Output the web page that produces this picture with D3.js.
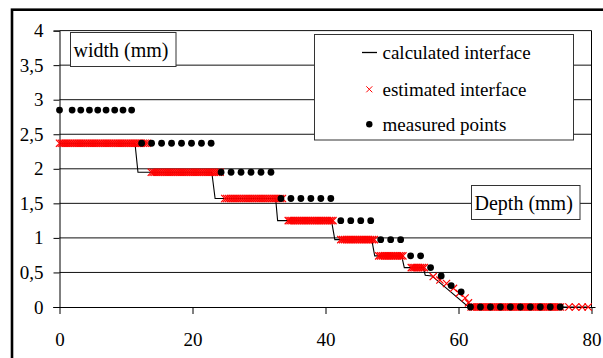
<!DOCTYPE html>
<html>
<head>
<meta charset="utf-8">
<script src="https://cdn.jsdelivr.net/npm/d3@7"></script>
<style>
  html, body { margin: 0; padding: 0; background: #fff; }
  svg { display: block; }
  svg text { font-family: "Liberation Serif", "DejaVu Serif", serif; fill: #000; }
</style>
</head>
<body>
<svg id="chart" width="603" height="358"></svg>
<script>
// Axis ticks and their labels (comma decimal separator)
const xTicks = [0, 20, 40, 60, 80];
const xTickLabels = ["0", "20", "40", "60", "80"];
const yTicks = [0, 0.5, 1, 1.5, 2, 2.5, 3, 3.5, 4];
const yTickLabels = ["0", "0,5", "1", "1,5", "2", "2,5", "3", "3,5", "4"];

// Measured points: depth (mm) and width (mm)
const measuredDepth = [
  0, 1.9, 3.2, 4.5, 5.75, 7.0, 8.3, 9.55, 10.85,
  12.35, 13.85, 15.35, 16.85, 18.35, 19.85, 21.35, 22.8,
  24.3, 25.8, 27.3, 28.8, 30.3, 31.8,
  33.3, 34.8, 36.3, 37.8, 39.3, 40.8,
  42.3, 43.8, 45.3, 46.8,
  48.3, 49.8, 51.3,
  52.8, 54.3,
  55.8, 57.4, 58.9, 60.4,
  61.8, 63.3, 64.8, 66.3, 67.8, 69.3, 70.8, 72.3, 73.8, 75.3
];
const measuredWidth = [
  2.85, 2.85, 2.85, 2.85, 2.85, 2.85, 2.85, 2.85, 2.85,
  2.37, 2.37, 2.37, 2.37, 2.37, 2.37, 2.37, 2.37,
  1.95, 1.95, 1.95, 1.95, 1.95, 1.95,
  1.57, 1.57, 1.57, 1.57, 1.57, 1.57,
  1.25, 1.25, 1.25, 1.25,
  0.975, 0.975, 0.975,
  0.74, 0.74,
  0.57, 0.45, 0.31, 0.22,
  0, 0, 0, 0, 0, 0, 0, 0, 0, 0
];

// Calculated interface: step profile with short slanted drops
const calcDepth = [0, 11.35, 11.8, 22.9, 23.4, 32.5, 32.8, 40.9, 41.4, 46.95, 47.4, 51.45, 51.85, 54.7, 55.0, 56.0, 61.5, 79.5];
const calcWidth = [2.37, 2.37, 1.95, 1.95, 1.57, 1.57, 1.25, 1.25, 0.975, 0.975, 0.74, 0.74, 0.57, 0.57, 0.46, 0.45, 0, 0];

// Estimated interface: flat plateaus [from depth, to depth, width] sampled every estStep mm,
// plus the individually placed points of the final slope and the tail
const estStep = 0.28;
const estPlateauFrom = [0, 13.8, 24.85, 34.4, 42.3, 48.0, 52.9, 61.9];
const estPlateauTo = [13.4, 24.3, 33.8, 41.2, 47.5, 51.85, 55.0, 75.6];
const estPlateauWidth = [2.37, 1.95, 1.57, 1.25, 0.975, 0.74, 0.57, 0];
const estSlopeDepth = [56.2, 57.2, 58.2, 59.25, 60.1, 61.0, 61.5, 76.6, 77.6, 78.6, 79.5];
const estSlopeWidth = [0.44, 0.39, 0.34, 0.27, 0.2, 0.13, 0.06, 0, 0, 0, 0];

const legendLabels = ["calculated interface", "estimated interface", "measured points"];

const svg = d3.select("#chart");
const FONT = '"Liberation Serif", "DejaVu Serif", serif';

const x = d3.scaleLinear().domain([0, 80]).range([59.5, 591.5]);
const y = d3.scaleLinear().domain([0, 4]).range([307, 30.6]);

// Outer frame of the chart
svg.append("rect")
  .attr("x", 12).attr("y", 9.7)
  .attr("width", 700).attr("height", 500)
  .attr("fill", "none").attr("stroke", "#000").attr("stroke-width", 2.6);

// Horizontal gridlines
svg.append("g").selectAll("line")
  .data(yTicks.filter(d => d > 0))
  .join("line")
  .attr("x1", x(0)).attr("x2", x(80))
  .attr("y1", d => y(d)).attr("y2", d => y(d))
  .attr("stroke", "#111").attr("stroke-width", 1);

// Right edge of the plot area
svg.append("line")
  .attr("x1", x(80)).attr("x2", x(80))
  .attr("y1", y(4)).attr("y2", y(0))
  .attr("stroke", "#000").attr("stroke-width", 1);

// Y axis
const yAxis = d3.axisLeft(y)
  .tickValues(yTicks)
  .tickFormat((d, i) => yTickLabels[i])
  .tickSize(6).tickPadding(10);
const gy = svg.append("g").attr("transform", `translate(${x(0)},0)`).call(yAxis)
  .attr("font-family", FONT).attr("font-size", 19);
gy.select(".domain").attr("stroke", "#000");
gy.selectAll(".tick line").attr("stroke", "#000");
gy.selectAll("text").attr("fill", "#000");

// X axis
const xAxis = d3.axisBottom(x)
  .tickValues(xTicks)
  .tickFormat((d, i) => xTickLabels[i])
  .tickSize(7).tickPadding(19);
const gx = svg.append("g").attr("transform", `translate(0,${y(0)})`).call(xAxis)
  .attr("font-family", FONT).attr("font-size", 19);
gx.select(".domain").attr("stroke", "#000").attr("d", `M${x(0) - 6},0.5H${x(80) + 4}`);
gx.selectAll(".tick line").attr("stroke", "#000");
gx.selectAll("text").attr("fill", "#000");

// Calculated interface line
const calcData = calcDepth.map((d, i) => [d, calcWidth[i]]);
svg.append("path")
  .datum(calcData)
  .attr("fill", "none").attr("stroke", "#000").attr("stroke-width", 1.1)
  .attr("d", d3.line().x(d => x(d[0])).y(d => y(d[1])));

// Estimated interface markers
const estData = [];
estPlateauFrom.forEach((from, i) => {
  for (let d = from; d <= estPlateauTo[i] + 1e-9; d += estStep) estData.push([d, estPlateauWidth[i]]);
});
estSlopeDepth.forEach((d, i) => estData.push([d, estSlopeWidth[i]]));

const crossPath = h => `M${-h},${-h}L${h},${h}M${-h},${h}L${h},${-h}`;
svg.append("g").selectAll("path")
  .data(estData)
  .join("path")
  .attr("transform", d => `translate(${x(d[0])},${y(d[1])})`)
  .attr("d", crossPath(3.6))
  .attr("fill", "none").attr("stroke", "#ff0000").attr("stroke-width", 1.2);

// Measured points
svg.append("g").selectAll("circle")
  .data(measuredDepth.map((d, i) => [d, measuredWidth[i]]))
  .join("circle")
  .attr("cx", d => x(d[0])).attr("cy", d => y(d[1]))
  .attr("r", 3.4).attr("fill", "#000");

// Axis title boxes
function labelBox(bx, by, bw, bh, label, tx, ty) {
  const g = svg.append("g");
  g.append("rect").attr("x", bx).attr("y", by).attr("width", bw).attr("height", bh)
    .attr("fill", "#fff").attr("stroke", "#333").attr("stroke-width", 1);
  g.append("text").attr("x", tx).attr("y", ty).attr("font-size", 20).attr("font-family", FONT).text(label);
}
labelBox(70.5, 32.5, 105.5, 34, "width (mm)", 73.5, 57);
labelBox(471.5, 185.5, 108.5, 34, "Depth (mm)", 474.5, 209.5);

// Legend
const lg = svg.append("g").attr("font-family", FONT);
lg.append("rect").attr("x", 314.5).attr("y", 34.5).attr("width", 259).attr("height", 105.5)
  .attr("fill", "#fff").attr("stroke", "#333").attr("stroke-width", 1);
const rowY = [52.5, 89.3, 124.3];
lg.append("line").attr("x1", 362).attr("x2", 377).attr("y1", rowY[0]).attr("y2", rowY[0])
  .attr("stroke", "#000").attr("stroke-width", 1.3);
lg.append("path").attr("transform", `translate(369.3,${rowY[1]})`).attr("d", crossPath(3))
  .attr("fill", "none").attr("stroke", "#ff0000").attr("stroke-width", 1);
lg.append("circle").attr("cx", 369.3).attr("cy", rowY[2]).attr("r", 3.2).attr("fill", "#000");
lg.selectAll("text.lbl")
  .data(legendLabels)
  .join("text")
  .attr("class", "lbl")
  .attr("x", 382.5)
  .attr("y", (d, i) => rowY[i] + 6.5)
  .attr("font-size", 19)
  .text(d => d);
</script>
</body>
</html>
